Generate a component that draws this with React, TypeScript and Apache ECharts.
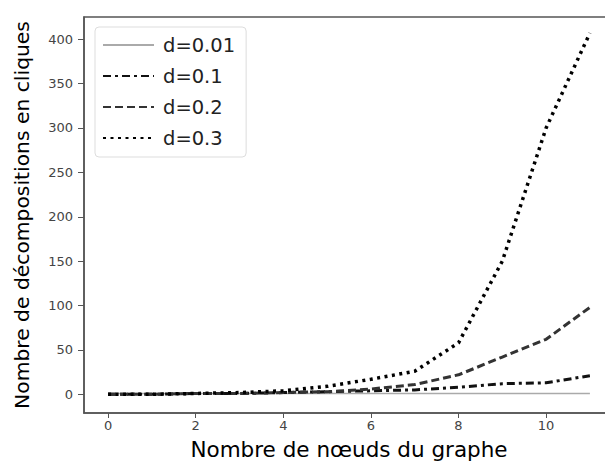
import React, { useEffect, useRef } from "react";
import * as echarts from "echarts";

const nodes = [0, 1, 2, 3, 4, 5, 6, 7, 8, 9, 10, 11];
const d001 = [1, 1, 1, 1, 1, 1, 1, 1, 1, 1, 1, 1];
const d01 = [0, 0, 1, 1, 2, 3, 4, 5, 8, 12, 13, 21];
const d02 = [0, 0, 1, 1, 2, 3, 6, 11, 22, 42, 62, 98];
const d03 = [0, 0, 1, 2, 4, 9, 17, 26, 58, 150, 300, 407];
const xTicks = [0, 2, 4, 6, 8, 10];
const yTicks = [0, 50, 100, 150, 200, 250, 300, 350, 400];

const pairs = (ys: number[]) => nodes.map((x, i) => [x, ys[i]]);

export default function App() {
  const ref = useRef<HTMLDivElement>(null);
  useEffect(() => {
    if (!ref.current) return;
    const chart = echarts.init(ref.current, null, { renderer: "svg" });
    const tickFont = { fontFamily: "DejaVu Sans", fontSize: 13, color: "#444" };
    chart.setOption({
      animation: false,
      backgroundColor: "#fff",
      grid: {
        left: 84,
        top: 17,
        right: -9,
        bottom: 51,
        outerBoundsMode: "none",
        containLabel: false,
        show: true,
        borderColor: "#555",
        borderWidth: 1.5,
      },
      legend: {
        orient: "vertical",
        left: 95,
        top: 27,
        itemWidth: 51,
        itemHeight: 14,
        itemGap: 9,
        padding: [7, 11, 8, 7],
        borderColor: "#ddd",
        borderWidth: 1,
        borderRadius: 4,
        itemStyle: { opacity: 0 },
        textStyle: {
          fontFamily: "DejaVu Sans",
          fontSize: 19.5,
          lineHeight: 22,
          color: "#222",
          padding: [0, 0, 0, 4],
        },
        data: ["d=0.01", "d=0.1", "d=0.2", "d=0.3"],
      },
      xAxis: {
        type: "value",
        min: -0.55,
        max: 11.55,
        name: "Nombre de nœuds du graphe",
        nameLocation: "middle",
        nameGap: 25,
        nameTextStyle: { fontFamily: "DejaVu Sans", fontSize: 21.5, color: "#000" },
        axisLine: { show: true, onZero: false, lineStyle: { color: "#555", width: 1.5 } },
        axisTick: { show: true, length: 5, lineStyle: { color: "#555" }, customValues: xTicks },
        axisLabel: { ...tickFont, margin: 6, customValues: xTicks },
        splitLine: { show: false },
      },
      yAxis: {
        type: "value",
        min: -21,
        max: 425,
        name: "Nombre de décompositions en cliques",
        nameLocation: "middle",
        nameGap: 52,
        nameTextStyle: { fontFamily: "DejaVu Sans", fontSize: 20.3, color: "#000" },
        axisLine: { show: true, onZero: false, lineStyle: { color: "#555", width: 1.5 } },
        axisTick: { show: true, length: 6, lineStyle: { color: "#555" }, customValues: yTicks },
        axisLabel: { ...tickFont, margin: 11, customValues: yTicks },
        splitLine: { show: false },
      },
      series: [
        {
          name: "d=0.01",
          type: "line",
          data: pairs(d001),
          symbol: "none",
          color: "#aaa",
          lineStyle: { color: "#aaa", width: 1.5, type: "solid" },
        },
        {
          name: "d=0.1",
          type: "line",
          data: pairs(d01),
          symbol: "none",
          color: "#111",
          lineStyle: { color: "#111", width: 3, type: [8, 4, 3, 4] },
        },
        {
          name: "d=0.2",
          type: "line",
          data: pairs(d02),
          symbol: "none",
          color: "#333",
          lineStyle: { color: "#333", width: 3, type: [8, 4] },
        },
        {
          name: "d=0.3",
          type: "line",
          data: pairs(d03),
          symbol: "none",
          color: "#000",
          lineStyle: { color: "#000", width: 3.5, type: [3, 4.5] },
        },
      ],
    });
    return () => chart.dispose();
  }, []);
  return <div ref={ref} style={{ width: 605, height: 464, position: "fixed", left: 0, top: 0 }} />;
}
